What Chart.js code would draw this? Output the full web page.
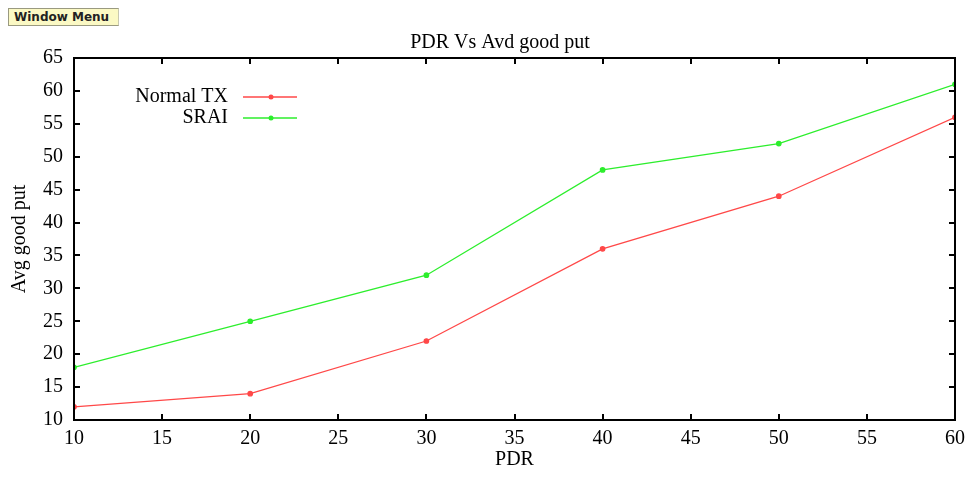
<!DOCTYPE html>
<html>
<head>
<meta charset="utf-8">
<script src="https://cdn.jsdelivr.net/npm/chart.js@4"></script>
<style>
  html, body { margin: 0; padding: 0; background: #fff; }
  #wrap { position: relative; width: 967px; height: 480px; }
  #menu {
    position: absolute; left: 8px; top: 8px; width: 111px; height: 18px;
    background: #fbf9c4; border: 1px solid #9a9a80; border-right-color: #c8c8b0; box-sizing: border-box;
    font: bold 12px "DejaVu Sans", sans-serif; line-height: 16px; padding-left: 5px; color: #222;
  }
  canvas { position: absolute; left: 0; top: 0; }
</style>
</head>
<body>
<div id="wrap">
  <canvas id="grafico" width="967" height="480"></canvas>
  <div id="menu">Window Menu</div>
</div>
<script>
// datos
const pdr = [10, 20, 30, 40, 50, 60];
const normalTx = [12, 14, 22, 36, 44, 56];
const srai = [18, 25, 32, 48, 52, 61];
const yTicks = [10, 15, 20, 25, 30, 35, 40, 45, 50, 55, 60, 65];
const xTicks = [10, 15, 20, 25, 30, 35, 40, 45, 50, 55, 60];

const FUENTE = "'Liberation Serif', 'Times New Roman', serif";
const ROJO = "#ff4848";
const VERDE = "#2cee2c";

// marco con marcas hacia dentro en los cuatro lados, estilo gnuplot
const marcoPlugin = {
  id: "marco",
  afterDraw(chart) {
    const { ctx, chartArea: a, scales } = chart;
    ctx.save();
    ctx.strokeStyle = "#000";
    ctx.lineWidth = 2;
    ctx.strokeRect(a.left, a.top, a.right - a.left, a.bottom - a.top);
    const largo = 6;
    ctx.beginPath();
    yTicks.forEach(v => {
      const y = Math.round(scales.y.getPixelForValue(v));
      ctx.moveTo(a.left, y); ctx.lineTo(a.left + largo, y);
      ctx.moveTo(a.right, y); ctx.lineTo(a.right - largo, y);
    });
    xTicks.forEach(v => {
      const x = Math.round(scales.x.getPixelForValue(v));
      ctx.moveTo(x, a.bottom); ctx.lineTo(x, a.bottom - largo);
      ctx.moveTo(x, a.top); ctx.lineTo(x, a.top + largo);
    });
    ctx.stroke();

    // titulo
    ctx.fillStyle = "#000";
    ctx.font = "20px " + FUENTE;
    ctx.textAlign = "center";
    ctx.textBaseline = "middle";
    ctx.fillText("PDR Vs Avd good put", 500, 43);

    // leyenda dentro del area
    const items = [["Normal TX", ROJO], ["SRAI", VERDE]];
    ctx.textAlign = "right";
    items.forEach(([txt, col], i) => {
      const y = 97 + i * 21;
      ctx.fillStyle = "#000";
      ctx.fillText(txt, 228, y);
      ctx.strokeStyle = col;
      ctx.lineWidth = 1.5;
      ctx.beginPath(); ctx.moveTo(243, y); ctx.lineTo(297, y); ctx.stroke();
      ctx.fillStyle = col;
      ctx.beginPath(); ctx.arc(271, y, 2.5, 0, Math.PI * 2); ctx.fill();
    });
    ctx.restore();
  }
};

new Chart(document.getElementById("grafico"), {
  type: "line",
  data: {
    datasets: [
      {
        label: "Normal TX",
        data: pdr.map((x, i) => ({ x, y: normalTx[i] })),
        borderColor: ROJO, backgroundColor: ROJO,
        borderWidth: 1.3, pointRadius: 2.2, tension: 0
      },
      {
        label: "SRAI",
        data: pdr.map((x, i) => ({ x, y: srai[i] })),
        borderColor: VERDE, backgroundColor: VERDE,
        borderWidth: 1.3, pointRadius: 2.2, tension: 0
      }
    ]
  },
  options: {
    responsive: false,
    animation: false,
    layout: { padding: { left: 0, right: 12, top: 58, bottom: 6 } },
    plugins: {
      legend: { display: false },
      tooltip: { enabled: false },
      title: { display: false }
    },
    scales: {
      x: {
        type: "linear", min: 10, max: 60,
        afterBuildTicks: s => { s.ticks = xTicks.map(v => ({ value: v })); },
        afterFit: s => { s.height = 54; s.paddingRight = 0; s.paddingLeft = 0; },
        grid: { display: false, drawTicks: false },
        border: { display: false },
        ticks: { color: "#000", padding: 7, maxRotation: 0, font: { family: FUENTE, size: 20 } },
        title: { display: true, text: "PDR", color: "#000", padding: { top: 0, bottom: 2 }, font: { family: FUENTE, size: 20 } }
      },
      y: {
        type: "linear", min: 10, max: 65,
        afterBuildTicks: s => { s.ticks = yTicks.map(v => ({ value: v })); },
        afterFit: s => { s.width = 74; },
        grid: { display: false, drawTicks: false },
        border: { display: false },
        ticks: { color: "#000", padding: 11, font: { family: FUENTE, size: 20 } },
        title: { display: true, text: "Avg good put", color: "#000", padding: { top: 8, bottom: 0 }, font: { family: FUENTE, size: 20 } }
      }
    }
  },
  plugins: [marcoPlugin]
});
</script>
</body>
</html>
